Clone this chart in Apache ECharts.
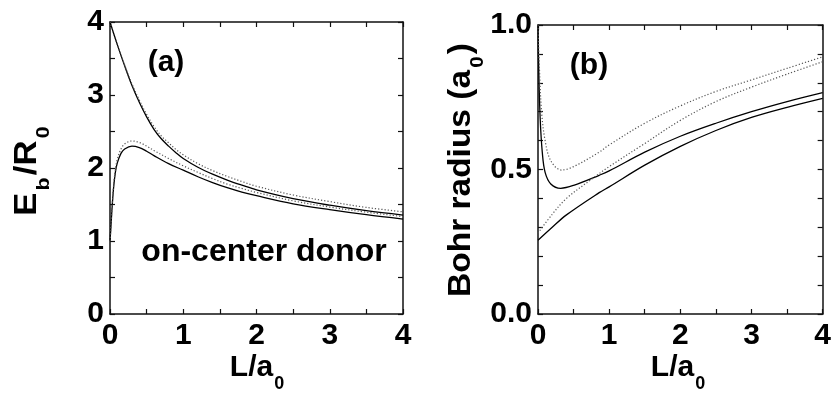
<!DOCTYPE html>
<html><head><meta charset="utf-8">
<script src="https://cdn.jsdelivr.net/npm/echarts@6/dist/echarts.min.js"></script>
<style>html,body{margin:0;padding:0;background:#fff}#c{width:834px;height:399px}</style>
</head><body><div id="c"></div>
<script>
// ---- Panel (a): E_b/R_0 vs L/a0 ----
const aUpperX = [0, 0.1, 0.2, 0.3, 0.4, 0.5, 0.6, 0.7, 0.8, 0.9, 1.0, 1.2, 1.4, 1.6, 1.8, 2.0, 2.5, 3.0, 3.5, 4.0];
const aUpperSolidY = [4.0, 3.69, 3.40, 3.13, 2.90, 2.70, 2.53, 2.40, 2.30, 2.21, 2.13, 2.01, 1.915, 1.835, 1.765, 1.70, 1.58, 1.49, 1.415, 1.355];
const aUpperDotY   = [4.0, 3.69, 3.41, 3.15, 2.93, 2.735, 2.57, 2.44, 2.345, 2.255, 2.18, 2.06, 1.965, 1.885, 1.815, 1.75, 1.63, 1.54, 1.46, 1.40];
const aLowerX = [0, 0.01, 0.02, 0.03, 0.05, 0.075, 0.1, 0.15, 0.2, 0.3, 0.4, 0.5, 0.6, 0.8, 1.0, 1.2, 1.4, 1.6, 1.8, 2.0, 2.5, 3.0, 3.5, 4.0];
const aLowerSolidY = [1.0, 1.15, 1.32, 1.48, 1.74, 1.95, 2.07, 2.20, 2.26, 2.30, 2.28, 2.23, 2.17, 2.06, 1.97, 1.88, 1.80, 1.73, 1.67, 1.62, 1.51, 1.43, 1.36, 1.30];
const aLowerDotY   = [1.0, 1.15, 1.33, 1.50, 1.77, 1.99, 2.12, 2.26, 2.33, 2.37, 2.35, 2.30, 2.24, 2.13, 2.03, 1.94, 1.855, 1.78, 1.72, 1.665, 1.55, 1.465, 1.395, 1.335];

// ---- Panel (b): Bohr radius vs L/a0 ----
const bUpperSolidX = [0, 0.01, 0.03, 0.06, 0.1, 0.18, 0.32, 0.5, 0.86, 1.0, 1.5, 2.0, 2.5, 3.0, 3.5, 4.0];
const bUpperSolidY = [1.0, 0.85, 0.68, 0.56, 0.49, 0.45, 0.435, 0.445, 0.48, 0.495, 0.56, 0.615, 0.66, 0.70, 0.735, 0.766];
const bLowerSolidX = [0, 0.2, 0.4, 0.86, 1.0, 1.5, 2.0, 2.5, 3.0, 3.5, 4.0];
const bLowerSolidY = [0.255, 0.30, 0.343, 0.42, 0.44, 0.515, 0.58, 0.635, 0.68, 0.715, 0.746];
const bUpperDotX = [0, 0.02, 0.05, 0.1, 0.18, 0.33, 0.5, 0.86, 1.0, 1.5, 2.0, 2.5, 3.0, 3.5, 4.0];
const bUpperDotY = [1.0, 0.85, 0.70, 0.60, 0.53, 0.498, 0.51, 0.56, 0.585, 0.66, 0.72, 0.77, 0.81, 0.85, 0.89];
const bLowerDotX = [0, 0.2, 0.4, 0.74, 1.0, 1.5, 2.0, 2.5, 3.0, 3.5, 4.0];
const bLowerDotY = [0.28, 0.345, 0.40, 0.464, 0.51, 0.59, 0.67, 0.735, 0.785, 0.83, 0.873];

const xTicksMin = 0, xTicksMax = 4;

const FONT = 'Liberation Sans, Arial, sans-serif';
function zip(xs, ys) { return xs.map((x, i) => [x, ys[i]]); }

const frame = { show: true, onZero: false, lineStyle: { color: '#111', width: 1.5 } };
const lbl = { fontSize: 30, fontWeight: 'bold', color: '#000', fontFamily: FONT };

function xAx(g, pos, showLabel) {
  return {
    gridIndex: g, type: 'value', position: pos, min: xTicksMin, max: xTicksMax, interval: 1,
    axisLine: frame,
    axisTick: { show: true, inside: true, length: 5, lineStyle: { color: '#111', width: 1.2 } },
    minorTick: { show: true, splitNumber: 2, length: 5, lineStyle: { color: '#111', width: 1.2 } },
    splitLine: { show: false }, minorSplitLine: { show: false },
    axisLabel: showLabel ? Object.assign({ margin: 7 }, lbl) : { show: false }
  };
}
function yAx(g, pos, showLabel, min, max, interval, split, fmt) {
  return {
    gridIndex: g, type: 'value', position: pos, min: min, max: max, interval: interval,
    axisLine: frame,
    axisTick: { show: true, inside: true, length: 5, lineStyle: { color: '#111', width: 1.2 } },
    minorTick: { show: true, splitNumber: split, length: 5, lineStyle: { color: '#111', width: 1.2 } },
    splitLine: { show: false }, minorSplitLine: { show: false },
    axisLabel: showLabel ? Object.assign({ margin: 6, formatter: fmt }, lbl) : { show: false }
  };
}

function solid(xi, yi, data) {
  return { type: 'line', xAxisIndex: xi, yAxisIndex: yi, data: data, showSymbol: false, smooth: 0.35,
    lineStyle: { color: '#000', width: 1.3, type: 'solid' }, silent: true, animation: false };
}
function dotted(xi, yi, data) {
  return { type: 'line', xAxisIndex: xi, yAxisIndex: yi, data: data, showSymbol: false, smooth: 0.35,
    lineStyle: { color: '#555', width: 1.2, type: [1.2, 2] }, silent: true, animation: false };
}

const richX = {
  m: { fontSize: 30, fontWeight: 'bold', fontFamily: FONT, fill: '#000', color: '#000' },
  s: { fontSize: 18, fontWeight: 'bold', fontFamily: FONT, fill: '#000', color: '#000', padding: [32, 0, 0, 1] }
};
const richY = {
  m: { fontSize: 31, fontWeight: 'bold', fontFamily: FONT, fill: '#000', color: '#000' },
  s: { fontSize: 19, fontWeight: 'bold', fontFamily: FONT, fill: '#000', color: '#000', padding: [34, 2, 0, 2] }
};

const chart = echarts.init(document.getElementById('c'), null, { renderer: 'canvas' });
chart.setOption({
  animation: false,
  backgroundColor: '#fff',
  grid: [
    { left: 110, top: 22, width: 293, height: 292 },
    { left: 538, top: 25, width: 288, height: 289 }
  ],
  xAxis: [xAx(0, 'bottom', true), xAx(0, 'top', false), xAx(1, 'bottom', true), xAx(1, 'top', false)],
  yAxis: [
    yAx(0, 'left', true, 0, 4, 1, 2, v => String(v)),
    yAx(0, 'right', false, 0, 4, 1, 2),
    yAx(1, 'left', true, 0, 1, 0.5, 5, v => v.toFixed(1)),
    yAx(1, 'right', false, 0, 1, 0.5, 5)
  ],
  series: [
    solid(0, 0, zip(aUpperX, aUpperSolidY)),
    dotted(0, 0, zip(aUpperX, aUpperDotY)),
    solid(0, 0, zip(aLowerX, aLowerSolidY)),
    dotted(0, 0, zip(aLowerX, aLowerDotY)),
    solid(2, 2, zip(bUpperSolidX, bUpperSolidY)),
    solid(2, 2, zip(bLowerSolidX, bLowerSolidY)),
    dotted(2, 2, zip(bUpperDotX, bUpperDotY)),
    dotted(2, 2, zip(bLowerDotX, bLowerDotY))
  ],
  graphic: [
    { type: 'text', x: 166, y: 63, style: { text: '(a)', font: 'bold 30px ' + FONT, fill: '#000', align: 'center', verticalAlign: 'middle' } },
    { type: 'text', x: 589, y: 66, style: { text: '(b)', font: 'bold 30px ' + FONT, fill: '#000', align: 'center', verticalAlign: 'middle' } },
    { type: 'text', x: 264, y: 252, style: { text: 'on-center donor', font: 'bold 32px ' + FONT, fill: '#000', align: 'center', verticalAlign: 'middle' } },
    { type: 'text', x: 257, y: 368, style: { text: '{m|L/a}{s|0}', rich: richX, align: 'center', verticalAlign: 'middle' } },
    { type: 'text', x: 678, y: 368, style: { text: '{m|L/a}{s|0}', rich: richX, align: 'center', verticalAlign: 'middle' } },
    { type: 'text', x: 27, y: 170, rotation: Math.PI / 2, scaleX: 1.12, style: { text: '{m|E}{s|b}{m|/R}{s|0}', rich: richY, align: 'center', verticalAlign: 'middle' } },
    { type: 'text', x: 461, y: 170, rotation: Math.PI / 2, scaleX: 1.08, style: { text: '{m|Bohr radius (a}{s|0}{m|)}', rich: richY, align: 'center', verticalAlign: 'middle' } }
  ]
});
</script>
</body></html>
